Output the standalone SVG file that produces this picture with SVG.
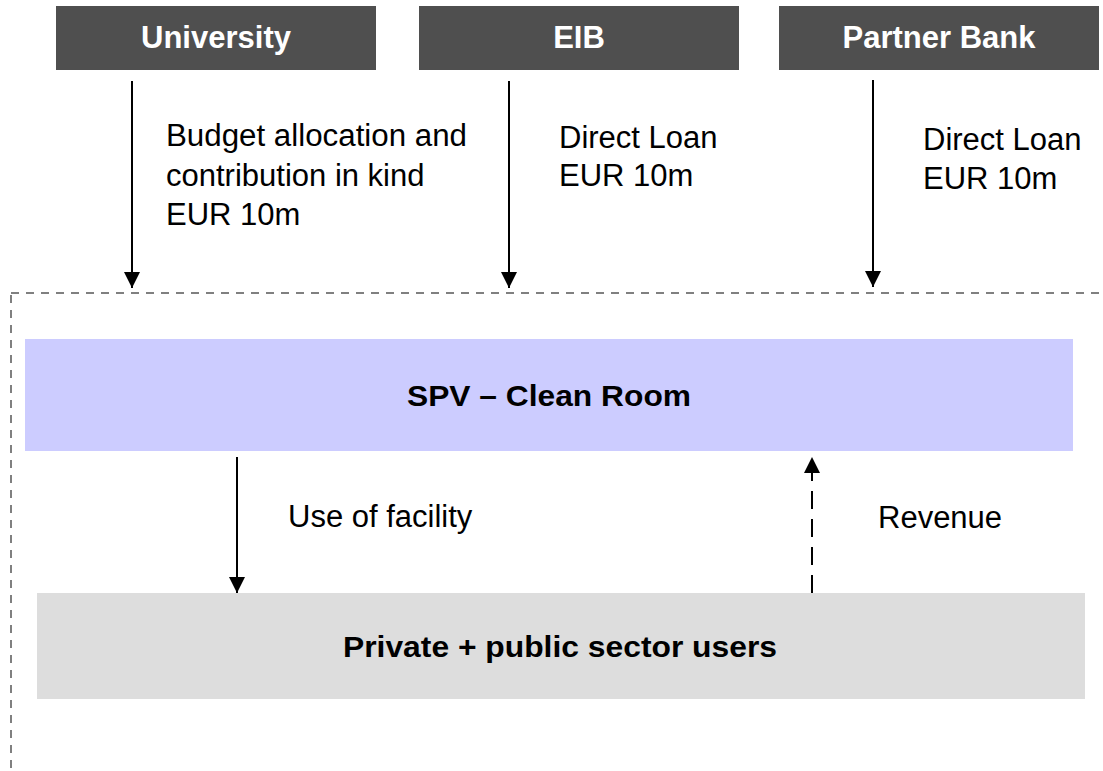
<svg xmlns="http://www.w3.org/2000/svg" width="1103" height="771" viewBox="0 0 1103 771">
  <style>
    .hdr { fill: #4f4f4f; }
    .hdrtxt { font-family: "Liberation Sans", Arial, sans-serif; font-weight: bold; font-size: 31px; fill: #ffffff; text-anchor: middle; }
    .lbl { font-family: "Liberation Sans", Arial, sans-serif; font-size: 31px; fill: #000000; }
    .boxtxt { font-family: "Liberation Sans", Arial, sans-serif; font-weight: bold; font-size: 30px; fill: #000000; text-anchor: middle; }
    .flow { stroke: #000000; stroke-width: 2; fill: none; }
    .dashflow { stroke: #000000; stroke-width: 2; fill: none; stroke-dasharray: 18 10; }
    .frame { stroke: #808080; stroke-width: 2; fill: none; stroke-dasharray: 8 7; }
  </style>
  <defs>
    <marker id="arrow" markerUnits="userSpaceOnUse" markerWidth="17" markerHeight="17" viewBox="0 0 17 17" refX="16" refY="8.5" orient="auto">
      <path d="M0,0.5 L16,8.5 L0,16.5 Z" fill="#000000"/>
    </marker>
  </defs>
  <rect width="1103" height="771" fill="#ffffff"/>

  <g id="boundary">
    <rect class="frame" x="11" y="293" width="1120" height="520"/>
  </g>

  <g id="university">
    <rect class="hdr" x="56" y="6" width="320" height="64"/>
    <text class="hdrtxt" x="216" y="48">University</text>
  </g>
  <g id="eib">
    <rect class="hdr" x="419" y="6" width="320" height="64"/>
    <text class="hdrtxt" x="579" y="48">EIB</text>
  </g>
  <g id="partner-bank">
    <rect class="hdr" x="779" y="6" width="320" height="64"/>
    <text class="hdrtxt" x="939" y="48">Partner Bank</text>
  </g>

  <g id="spv">
    <rect x="25" y="339" width="1048" height="112" fill="#ccccff"/>
    <text class="boxtxt" x="549" y="406" textLength="284" lengthAdjust="spacingAndGlyphs">SPV – Clean Room</text>
  </g>
  <g id="users">
    <rect x="37" y="593" width="1048" height="106" fill="#dddddd"/>
    <text class="boxtxt" x="560" y="657" font-size="31" textLength="434" lengthAdjust="spacingAndGlyphs">Private + public sector users</text>
  </g>

  <g id="connectors">
    <line class="flow" x1="132" y1="81" x2="132" y2="288" marker-end="url(#arrow)"/>
    <line class="flow" x1="509" y1="81" x2="509" y2="288" marker-end="url(#arrow)"/>
    <line class="flow" x1="873" y1="80" x2="873" y2="287" marker-end="url(#arrow)"/>
    <line class="flow" x1="237" y1="457" x2="237" y2="593" marker-end="url(#arrow)"/>
    <line class="dashflow" x1="812" y1="593" x2="812" y2="457" marker-end="url(#arrow)"/>
  </g>

  <g id="labels">
    <text class="lbl" x="166" y="146" textLength="301" lengthAdjust="spacingAndGlyphs">Budget allocation and</text>
    <text class="lbl" x="166" y="186">contribution in kind</text>
    <text class="lbl" x="166" y="225">EUR 10m</text>
    <text class="lbl" x="559" y="148">Direct Loan</text>
    <text class="lbl" x="559" y="186">EUR 10m</text>
    <text class="lbl" x="923" y="150">Direct Loan</text>
    <text class="lbl" x="923" y="189">EUR 10m</text>
    <text class="lbl" x="288" y="527">Use of facility</text>
    <text class="lbl" x="878" y="528">Revenue</text>
  </g>
</svg>
